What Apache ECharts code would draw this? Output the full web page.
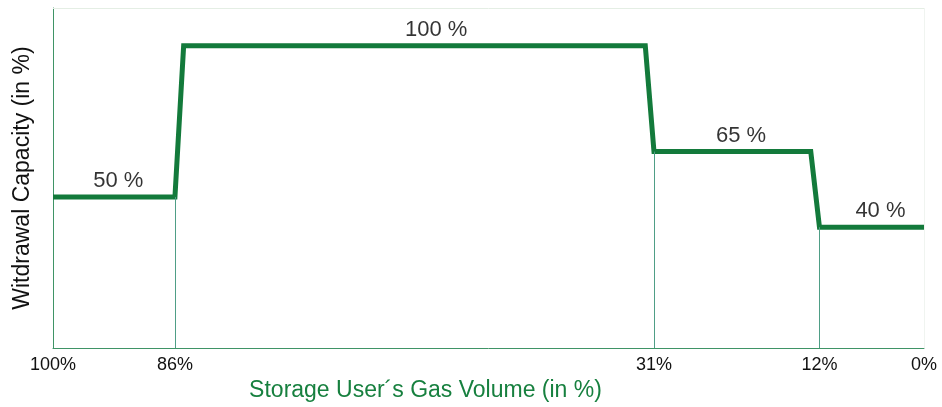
<!DOCTYPE html>
<html>
<head>
<meta charset="utf-8">
<script src="https://cdn.jsdelivr.net/npm/echarts@6/dist/echarts.min.js"></script>
<style>
  html, body { margin: 0; padding: 0; background: #fff; }
  #chart { width: 942px; height: 407px; }
</style>
</head>
<body>
<div id="chart"></div>
<script>
// storage volume (x, in %) -> withdrawal capacity (y, in %)
var volume = [100, 86, 85, 32, 31, 13, 12, 0];
var capacity = [50, 50, 100, 100, 65, 65, 40, 40];

// tick labels shown on the volume axis
var volumeTicks = [100, 86, 31, 12, 0];

// thin vertical guides at the steps
var guideX = [86, 31, 12];
var guideY = [50, 65, 40];

// step annotations
var noteX = [92.5, 56, 21, 5];
var noteY = [50, 100, 65, 40];
var noteText = ['50 %', '100 %', '65 %', '40 %'];

var yMax = 112.5;
var font = 'Liberation Sans, Arial, sans-serif';
var lineData = volume.map(function (v, i) { return [v, capacity[i]]; });
var guides = guideX.map(function (x, i) {
  return [{ coord: [x, 0] }, { coord: [x, guideY[i]] }];
});
var notes = noteX.map(function (x, i) { return { value: [x, noteY[i]], name: noteText[i] }; });

var myChart = echarts.init(document.getElementById('chart'));

var option = {
  animation: false,
  grid: { left: 53, right: 18, top: 8, bottom: 58 },
  xAxis: {
    type: 'value',
    min: 0, max: 100,
    inverse: true,
    name: 'Storage User\u00b4s Gas Volume (in %)',
    nameLocation: 'middle',
    nameGap: 27,
    nameTextStyle: { color: '#17803f', fontSize: 23, fontFamily: font, padding: [0, 126, 0, 0] },
    axisLine: { show: true, onZero: false, lineStyle: { color: '#3f9466', width: 1 } },
    axisTick: { show: false },
    splitLine: { show: false },
    axisLabel: {
      customValues: volumeTicks,
      formatter: '{value}%',
      color: '#111', fontSize: 18, fontFamily: font, margin: 8
    }
  },
  yAxis: {
    type: 'value',
    min: 0, max: yMax,
    name: 'Witdrawal Capacity (in %)',
    nameLocation: 'middle',
    nameGap: 19,
    nameTextStyle: { color: '#111', fontSize: 23, fontFamily: font },
    axisLine: { show: true, onZero: false, lineStyle: { color: '#3f9466', width: 1 } },
    axisTick: { show: false },
    axisLabel: { show: false },
    splitLine: { show: false }
  },
  series: [
    {
      type: 'line',
      data: lineData,
      symbol: 'none',
      lineStyle: { color: '#137a3b', width: 5, cap: 'butt', join: 'miter' },
      markLine: {
        silent: true,
        symbol: 'none',
        label: { show: false },
        lineStyle: { color: '#4f9e86', width: 1, type: 'solid', opacity: 1 },
        data: guides.concat([
          [{ coord: [100, yMax], lineStyle: { color: '#e4eee4' } }, { coord: [0, yMax] }],
          [{ coord: [0, 0], lineStyle: { color: '#f0f4f0' } }, { coord: [0, yMax] }]
        ])
      },
      z: 3
    },
    {
      type: 'scatter',
      data: notes,
      symbolSize: 0,
      label: {
        show: true,
        position: 'top',
        distance: 5,
        formatter: '{b}',
        color: '#000', fontSize: 22, fontFamily: font
      },
      z: 4
    }
  ]
};

myChart.setOption(option);
</script>
</body>
</html>
